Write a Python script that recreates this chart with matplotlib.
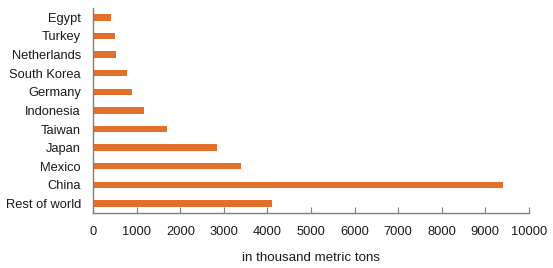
import matplotlib
matplotlib.use("Agg")
import matplotlib.pyplot as plt

categories = ["Rest of world", "China", "Mexico", "Japan", "Taiwan", "Indonesia",
              "Germany", "South Korea", "Netherlands", "Turkey", "Egypt"]
values = [4110, 9420, 3400, 2850, 1700, 1170, 880, 765, 520, 490, 405]
xticks = [0, 1000, 2000, 3000, 4000, 5000, 6000, 7000, 8000, 9000, 10000]

plt.rcParams['font.family'] = ['Liberation Sans', 'DejaVu Sans']
fig = plt.figure(figsize=(5.53, 2.68), dpi=100)
ax = fig.add_axes([0.1688, 0.206, 0.956 - 0.1688, 0.970 - 0.206])
ax.barh(range(len(categories)), values, height=0.34, color="#E2702A")
ax.set_yticks(range(len(categories)))
ax.set_yticklabels(categories, fontsize=9.3, color="#1a1a1a")
ax.set_ylim(-0.5, len(categories) - 0.5)
ax.set_xlim(0, 10000)
ax.set_xticks(xticks)
ax.set_xticklabels([str(x) for x in xticks], fontsize=9.3, color="#1a1a1a")
ax.tick_params(axis='y', length=0, pad=9)
ax.tick_params(axis='x', direction='in', length=4, color="#7f7f7f", pad=9.5)
for s in ['top', 'right']:
    ax.spines[s].set_visible(False)
for s in ['left', 'bottom']:
    ax.spines[s].set_color("#7f7f7f")
    ax.spines[s].set_linewidth(1)
ax.set_xlabel("in thousand metric tons", fontsize=9.6, labelpad=10, color="#1a1a1a")
fig.savefig("out.png", dpi=100)
